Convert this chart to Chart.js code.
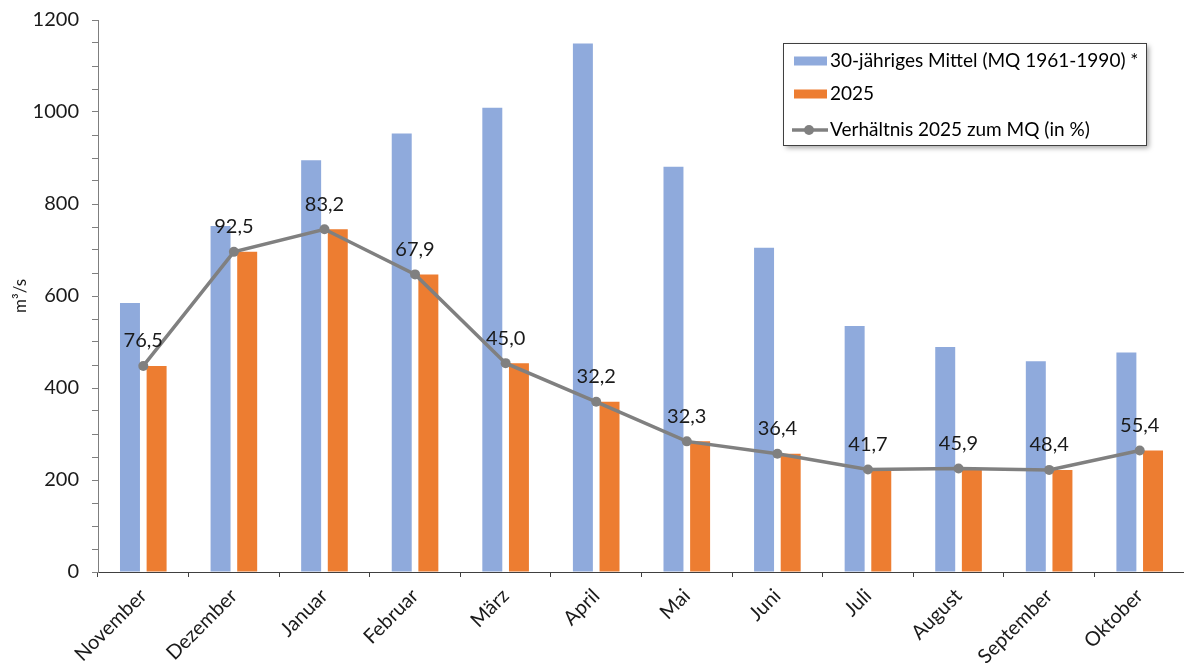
<!DOCTYPE html>
<html lang="de">
<head>
<meta charset="utf-8">
<title>Abfluss MQ und 2025</title>
<script src="https://cdn.jsdelivr.net/npm/chart.js@4/dist/chart.umd.min.js"></script>
<style>
  html, body { margin: 0; padding: 0; background: #fff; overflow: hidden; }
  #wrap { width: 1190px; height: 665px; }
</style>
</head>
<body>
<div id="wrap"><canvas id="c" width="1190" height="665"></canvas></div>
<script>
// Monate des Abflussjahres
const months = ['November', 'Dezember', 'Januar', 'Februar', 'März', 'April',
                'Mai', 'Juni', 'Juli', 'August', 'September', 'Oktober'];

// 30-jähriges Mittel MQ 1961-1990 (m³/s)
const mq = [585, 752, 895, 953, 1009, 1149, 881, 705, 535, 489, 458, 477];

// Monatsmittel 2025 (m³/s)
const q2025 = [448, 696, 745, 647, 454, 370, 284, 257, 223, 225, 222, 264];

// Verhältnis 2025 zum MQ in %
const ratio = [76.5, 92.5, 83.2, 67.9, 45.0, 32.2, 32.3, 36.4, 41.7, 45.9, 48.4, 55.4];

// Achsenbereich und Beschriftungsschritt der y-Achse
const yMax = 1200;
const yLabelStep = 200;
const yMinorStep = 50;

const seriesNames = ['30-jähriges Mittel (MQ 1961-1990) *', '2025', 'Verhältnis 2025 zum MQ (in %)'];

const FONT = 'Lato, "Liberation Sans", sans-serif';
const BLUE = '#8faadc';
const ORANGE = '#ed7d31';
const GREY = '#808080';
const TEXT = '#1a1a1a';

// Prozentwerte über den Punkten der Linie
const ratioLabels = {
  id: 'ratioLabels',
  afterDatasetsDraw(chart) {
    const meta = chart.getDatasetMeta(2);
    const ctx = chart.ctx;
    ctx.save();
    ctx.font = '20px ' + FONT;
    ctx.fillStyle = TEXT;
    ctx.textAlign = 'center';
    ctx.textBaseline = 'middle';
    meta.data.forEach((pt, i) => {
      const txt = ratio[i].toFixed(1).replace('.', ',');
      ctx.fillText(txt, pt.x, pt.y - 25);
    });
    ctx.restore();
  }
};

// Legende im Rahmen mit Schatten oben rechts
const boxLegend = {
  id: 'boxLegend',
  afterDraw(chart) {
    const ctx = chart.ctx;
    const ds = chart.data.datasets;
    const x = 783, y = 43, w = 363, h = 102;
    ctx.save();
    ctx.shadowColor = 'rgba(0,0,0,0.35)';
    ctx.shadowBlur = 5;
    ctx.shadowOffsetX = 3;
    ctx.shadowOffsetY = 3;
    ctx.fillStyle = '#fff';
    ctx.fillRect(x, y, w, h);
    ctx.restore();

    ctx.save();
    ctx.strokeStyle = '#404040';
    ctx.lineWidth = 1;
    ctx.strokeRect(x + 0.5, y + 0.5, w, h);

    const rows = [61, 94, 130];
    ctx.font = '19px ' + FONT;
    ctx.textBaseline = 'middle';
    ctx.textAlign = 'left';
    // Balken
    [0, 1].forEach(i => {
      ctx.fillStyle = ds[i].backgroundColor;
      ctx.fillRect(794, rows[i] - 4.5, 33, 9);
      ctx.fillStyle = '#000';
      ctx.fillText(ds[i].label, 830, rows[i]);
    });
    // Linie mit Punkt
    ctx.strokeStyle = ds[2].borderColor;
    ctx.lineWidth = 3.5;
    ctx.beginPath();
    ctx.moveTo(792, rows[2]);
    ctx.lineTo(828, rows[2]);
    ctx.stroke();
    ctx.fillStyle = ds[2].pointBackgroundColor;
    ctx.beginPath();
    ctx.arc(809, rows[2], 5, 0, Math.PI * 2);
    ctx.fill();
    ctx.fillStyle = '#000';
    ctx.fillText(ds[2].label, 830, rows[2]);
    ctx.restore();
  }
};

new Chart(document.getElementById('c'), {
  type: 'bar',
  data: {
    labels: months,
    datasets: [
      {
        label: seriesNames[0],
        data: mq,
        backgroundColor: BLUE,
        categoryPercentage: 0.588,
        barPercentage: 0.75,
        order: 2
      },
      {
        label: seriesNames[1],
        data: q2025,
        backgroundColor: ORANGE,
        categoryPercentage: 0.588,
        barPercentage: 0.75,
        order: 2
      },
      {
        type: 'line',
        label: seriesNames[2],
        data: q2025,
        borderColor: GREY,
        backgroundColor: GREY,
        pointBackgroundColor: GREY,
        pointBorderColor: GREY,
        borderWidth: 3.5,
        pointRadius: 5,
        pointBorderWidth: 0,
        tension: 0,
        order: 0
      }
    ]
  },
  options: {
    responsive: false,
    animation: false,
    events: [],
    layout: { padding: { top: 20, right: 2, left: 0, bottom: 0 } },
    plugins: {
      legend: { display: false },
      tooltip: { enabled: false },
      title: { display: false }
    },
    scales: {
      x: {
        afterFit(scale) { scale.height = 93; },
        grid: {
          offset: true,
          drawOnChartArea: false,
          drawTicks: true,
          tickLength: 5,
          color: '#404040'
        },
        border: { display: true, color: '#404040', width: 1 },
        ticks: {
          font: { family: FONT, size: 20 },
          color: TEXT,
          minRotation: 45,
          maxRotation: 45,
          autoSkip: false,
          padding: 7
        }
      },
      y: {
        min: 0,
        max: yMax,
        afterFit(scale) {
          scale.width = 98;
          scale.paddingTop = 0;
          scale.paddingBottom = 0;
        },
        grid: {
          drawOnChartArea: false,
          drawTicks: true,
          tickLength: 6,
          color: '#7f7f7f'
        },
        border: { display: true, color: '#7f7f7f', width: 1 },
        ticks: {
          stepSize: yMinorStep,
          autoSkip: false,
          font: { family: FONT, size: 20 },
          color: TEXT,
          padding: 13,
          callback: v => (v % yLabelStep === 0 ? String(v) : '')
        },
        title: {
          display: true,
          text: 'm³/s',
          font: { family: FONT, size: 17 },
          color: TEXT,
          padding: { top: 10, bottom: 0 }
        }
      }
    }
  },
  plugins: [ratioLabels, boxLegend]
});
</script>
</body>
</html>
